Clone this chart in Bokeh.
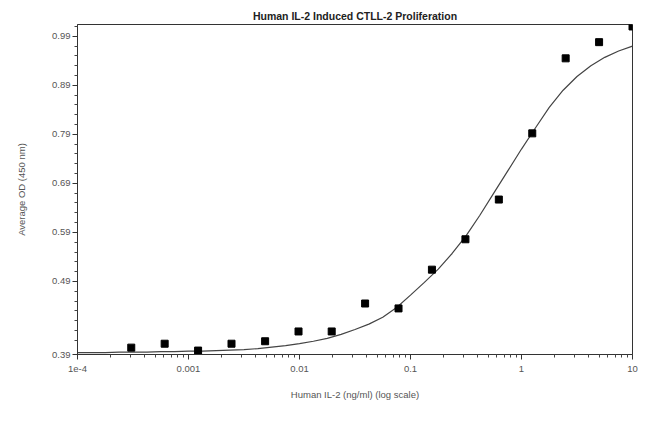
from bokeh.plotting import figure
from bokeh.embed import file_html
from bokeh.resources import INLINE
from bokeh.models import FixedTicker, CustomJSTickFormatter, Range1d

# --- data ---
conc = [10, 5, 2.5, 1.25, 0.625, 0.3125, 0.156, 0.078, 0.039, 0.0195,
        0.0098, 0.0049, 0.00244, 0.00122, 0.00061, 0.000305]
od = [1.010, 0.978, 0.945, 0.792, 0.657, 0.576, 0.514, 0.435, 0.445, 0.388,
      0.388, 0.368, 0.363, 0.349, 0.363, 0.355]

# fitted curve (log10 of concentration, OD)
fit_logx = [-4.0, -3.875, -3.75, -3.625, -3.5, -3.375, -3.25, -3.125, -3.0,
            -2.875, -2.75, -2.625, -2.5, -2.375, -2.25, -2.125, -2.0,
            -1.875, -1.75, -1.625, -1.5, -1.375, -1.25, -1.125, -1.0,
            -0.875, -0.75, -0.625, -0.5, -0.375, -0.25, -0.125, 0.0,
            0.125, 0.25, 0.375, 0.5, 0.625, 0.75, 0.875, 1.0]
fit_y = [0.345, 0.345, 0.345, 0.346, 0.346, 0.346, 0.347, 0.347, 0.348,
         0.348, 0.349, 0.350, 0.351, 0.353, 0.356, 0.359, 0.363,
         0.368, 0.374, 0.382, 0.392, 0.403, 0.417, 0.437, 0.462,
         0.488, 0.515, 0.547, 0.583, 0.625, 0.670, 0.715, 0.760,
         0.803, 0.845, 0.880, 0.908, 0.930, 0.947, 0.960, 0.970]

x_ticks = [1e-4, 1e-3, 1e-2, 1e-1, 1, 10]
x_labels = ["1e-4", "0.001", "0.01", "0.1", "1", "10"]
x_minor = [2e-4, 3e-4, 4e-4, 5e-4, 6e-4, 7e-4, 8e-4, 9e-4,
           2e-3, 3e-3, 4e-3, 5e-3, 6e-3, 7e-3, 8e-3, 9e-3,
           0.02, 0.03, 0.04, 0.05, 0.06, 0.07, 0.08, 0.09,
           0.2, 0.3, 0.4, 0.5, 0.6, 0.7, 0.8, 0.9,
           2, 3, 4, 5, 6, 7, 8, 9]
y_ticks = [0.341, 0.49, 0.59, 0.69, 0.79, 0.89, 0.99]
y_labels = ["0.39", "0.49", "0.59", "0.69", "0.79", "0.89", "0.99"]
y_minor = [0.37, 0.39, 0.41, 0.43, 0.45, 0.47, 0.51, 0.53, 0.55, 0.57,
           0.61, 0.63, 0.65, 0.67, 0.71, 0.73, 0.75, 0.77, 0.81, 0.83,
           0.85, 0.87, 0.91, 0.93, 0.95, 0.97, 1.01]

FONT = "Liberation Sans"
GREY = "#555555"

p = figure(width=641, height=405, x_axis_type="log",
           x_range=Range1d(1e-4, 10), y_range=Range1d(0.341, 1.014),
           output_backend="svg", toolbar_location=None,
           title="Human IL-2 Induced CTLL-2 Proliferation",
           min_border_left=77, min_border_right=9, min_border_top=24,
           min_border_bottom=51)

p.title.align = "center"
p.title.text_font = FONT
p.title.text_font_size = "10.5px"
p.title.text_font_style = "bold"
p.title.text_color = "#222222"
p.title.offset = 0
p.title.standoff = 6

p.xgrid.grid_line_color = None
p.ygrid.grid_line_color = None
p.outline_line_color = "#333333"

fit_x = [10.0 ** v for v in fit_logx]
p.line(fit_x, fit_y, line_color="#444444", line_width=1.2)
p.scatter(conc, od, marker="square", size=7, fill_color="black",
          line_color="black")

p.xaxis.ticker = FixedTicker(ticks=x_ticks, minor_ticks=x_minor)
p.xaxis.formatter = CustomJSTickFormatter(args=dict(labels=x_labels),
                                          code="return labels[index];")
p.yaxis.ticker = FixedTicker(ticks=y_ticks, minor_ticks=y_minor)
p.yaxis.formatter = CustomJSTickFormatter(args=dict(labels=y_labels),
                                          code="return labels[index];")

p.xaxis.axis_label = "Human IL-2 (ng/ml) (log scale)"
p.yaxis.axis_label = "Average OD (450 nm)"

p.xaxis.axis_line_color = "#333333"
p.yaxis.axis_line_color = "#333333"
p.xaxis.major_tick_line_color = "#333333"
p.yaxis.major_tick_line_color = "#333333"
p.xaxis.minor_tick_line_color = "#444444"
p.yaxis.minor_tick_line_color = "#444444"
p.xaxis.major_tick_in = 0
p.yaxis.major_tick_in = 0
p.xaxis.major_tick_out = 5
p.yaxis.major_tick_out = 5
p.xaxis.minor_tick_in = 0
p.yaxis.minor_tick_in = 0
p.xaxis.minor_tick_out = 3
p.yaxis.minor_tick_out = 3

p.xaxis.major_label_text_font = FONT
p.yaxis.major_label_text_font = FONT
p.xaxis.major_label_text_font_size = "9.5px"
p.yaxis.major_label_text_font_size = "9.5px"
p.xaxis.major_label_text_color = GREY
p.yaxis.major_label_text_color = GREY
p.xaxis.axis_label_text_font = FONT
p.yaxis.axis_label_text_font = FONT
p.xaxis.axis_label_text_font_size = "9.5px"
p.yaxis.axis_label_text_font_size = "9.5px"
p.xaxis.axis_label_text_font_style = "normal"
p.yaxis.axis_label_text_font_style = "normal"
p.xaxis.axis_label_text_color = GREY
p.yaxis.axis_label_text_color = GREY

p.xaxis.major_label_standoff = 6
p.xaxis.axis_label_standoff = 14
p.yaxis.major_label_standoff = 2
p.yaxis.axis_label_standoff = 22

open("out.html", "w").write(file_html(p, INLINE))
